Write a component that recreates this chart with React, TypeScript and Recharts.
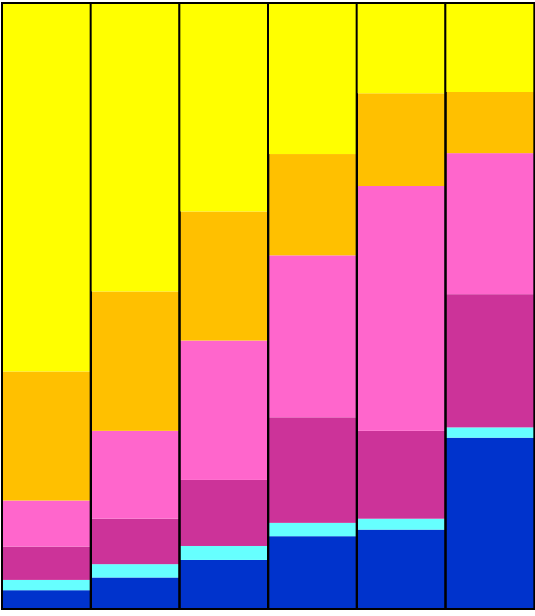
import { BarChart, Bar, XAxis, YAxis } from 'recharts'

const categories = ['1', '2', '3', '4', '5', '6']
const blue = [3.1, 5.2, 8.1, 12.0, 13.1, 28.3]
const cyan = [1.7, 2.2, 2.3, 2.2, 1.8, 1.7]
const magenta = [5.5, 7.5, 10.9, 17.4, 14.5, 22.0]
const pink = [7.6, 14.5, 23.0, 26.7, 40.4, 23.3]
const orange = [21.3, 23.0, 21.3, 16.7, 15.3, 10.1]
const yellow = [60.8, 47.6, 34.4, 24.9, 14.9, 14.7]

const series = [
  { key: 'blue', values: blue, color: '#0033cc' },
  { key: 'cyan', values: cyan, color: '#66ffff' },
  { key: 'magenta', values: magenta, color: '#cc3399' },
  { key: 'pink', values: pink, color: '#ff66cc' },
  { key: 'orange', values: orange, color: '#ffc000' },
  { key: 'yellow', values: yellow, color: '#ffff00' },
]

const data = categories.map((name, i) => {
  const row: Record<string, string | number> = { name }
  series.forEach((s) => {
    row[s.key] = s.values[i]
  })
  return row
})

const plainShape = (props: any) => {
  const { x, y, width, height, fill } = props
  return <rect x={x} y={y} width={width} height={height} fill={fill} />
}

// top segment also draws the outline of the whole bar (from its background box)
const topShape = (props: any) => {
  const { x, y, width, height, fill, background } = props
  const bg = background || { x, y, width, height }
  return (
    <g>
      <rect x={x} y={y} width={width} height={height} fill={fill} />
      <rect x={bg.x} y={bg.y} width={bg.width} height={bg.height} fill="none" stroke="#000" strokeWidth={2} />
    </g>
  )
}

export default function App() {
  return (
    <div style={{ position: 'absolute', left: 0, top: 0, width: 535, height: 616, background: '#fff' }}>
      <BarChart
        width={535}
        height={616}
        data={data}
        stackOffset="expand"
        barCategoryGap={0}
        margin={{ top: 3, right: 1, bottom: 7, left: 2 }}
      >
        <XAxis dataKey="name" hide />
        <YAxis hide domain={[0, 1]} />
        {series.map((s, i) => (
          <Bar
            key={s.key}
            dataKey={s.key}
            stackId="a"
            fill={s.color}
            isAnimationActive={false}
            shape={i === series.length - 1 ? topShape : plainShape}
          />
        ))}
      </BarChart>
    </div>
  )
}
